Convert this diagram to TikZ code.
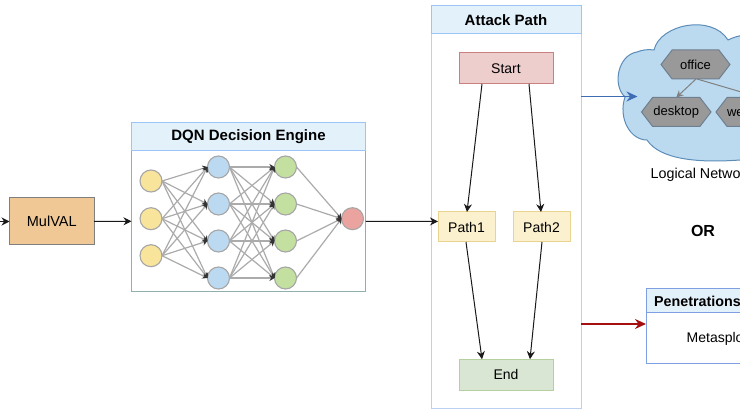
\documentclass[tikz,border=0pt]{standalone}
\usepackage{fontspec}
\setmainfont{Liberation Sans}
\usetikzlibrary{shapes.symbols,arrows.meta}
\definecolor{titlefill}{HTML}{E3F1FB}
\definecolor{titleline}{HTML}{9CC5F7}
\definecolor{bodyline}{HTML}{8FB0AE}
\definecolor{pathline}{HTML}{BDD0F2}
\definecolor{penline}{HTML}{7F9FE3}
\definecolor{netline}{HTML}{ABABAB}
\definecolor{hexfill}{HTML}{999999}
\definecolor{hexline}{HTML}{6F7F8F}
\definecolor{cloudfill}{HTML}{BBDAF0}
\definecolor{cloudline}{HTML}{5C8DB8}
\definecolor{pathfill}{HTML}{FBF1CE}
\definecolor{pathedge}{HTML}{E8D48F}
\definecolor{inC}{HTML}{F8E49B}
\definecolor{hidA}{HTML}{BBDAF2}
\definecolor{hidB}{HTML}{C3E0A0}
\definecolor{outC}{HTML}{EBA3A0}
\definecolor{startfill}{HTML}{EECDCD}
\definecolor{startedge}{HTML}{C88080}
\definecolor{endfill}{HTML}{D9E6D4}
\definecolor{endedge}{HTML}{B5CF9F}
\definecolor{mulfill}{HTML}{F0C896}
\definecolor{muledge}{HTML}{7F7F7F}
\definecolor{blueflow}{HTML}{3E6DB5}
\definecolor{redflow}{HTML}{A50F0F}
\tikzset{
  boxn/.style={draw,rectangle,inner sep=0pt,outer sep=0pt,line width=1pt},
  titlebox/.style={boxn,fill=titlefill,draw=titleline,font=\fontsize{15}{15}\selectfont\bfseries},
  statebox/.style={boxn,minimum width=94pt,minimum height=31pt,font=\fontsize{14}{14}\selectfont},
  pathbox/.style={boxn,minimum width=57pt,minimum height=30pt,fill=pathfill,draw=pathedge,font=\fontsize{14}{14}\selectfont},
  neuron/.style={circle,draw=black!35,fill=#1,line width=1.1pt,minimum size=22pt,inner sep=0pt,outer sep=0pt},
  hexa/.style={signal,signal to=west and east,signal pointer angle=105,draw=hexline,fill=hexfill,line width=1pt,inner sep=0pt,outer sep=0pt,minimum height=29pt,font=\fontsize{13}{13}\selectfont},
  flow/.style={-{Stealth[length=8pt,width=8pt]},line width=1pt,black!90},
  netlink/.style={-{Stealth[length=5pt,width=6pt,color=black!80]},draw=netline,line width=1.2pt},
  hexlink/.style={-{Stealth[length=7pt,width=7pt]},draw=gray,color=gray,line width=1pt},
  bigflow/.style={-{Stealth[length=11pt,width=10pt]},color=#1,line width=1.7pt},
}
\begin{document}
\begin{tikzpicture}[x=1pt,y=-1pt]
\useasboundingbox (0,0) rectangle (740,414);
\clip (0,0) rectangle (740,414);

% left part
\coordinate (src) at (-2,221.5);
\node[boxn,draw=muledge,fill=mulfill,minimum width=84.5pt,minimum height=47pt,font=\fontsize{14.5}{14.5}\selectfont] (mulval) at (51.75,221.5) {MulVAL};
\draw[flow] (src) -- (mulval.west);

% DQN panel
\node[boxn,draw=bodyline,fill=white,minimum width=234pt,minimum height=141.5pt] (dqnbody) at (248.5,221.25) {};
\node[titlebox,minimum width=234pt,minimum height=28pt] (dqntitle) at (248.5,136.5) {DQN Decision Engine};
\draw[flow] (mulval.east) -- (dqnbody.west);

% neurons
\foreach \n/\y in {1/181,2/218.7,3/255.7}
  \node[neuron=inC] (i\n) at (151,\y) {};
\foreach \n/\y in {1/167,2/204,3/241,4/278}{
  \node[neuron=hidA] (a\n) at (218.5,\y) {};
  \node[neuron=hidB] (b\n) at (285.5,\y) {};
}
\node[neuron=outC] (o1) at (352.5,218.7) {};
\foreach \s in {1,2,3}\foreach \t in {1,2,3,4}
  \draw[netlink] (i\s.east) -- (a\t.west);
\foreach \s in {1,2,3,4}\foreach \t in {1,2,3,4}
  \draw[netlink] (a\s.east) -- (b\t.west);
\foreach \s in {1,2,3,4}
  \draw[netlink] (b\s.east) -- (o1.west);

% Attack Path panel
\node[boxn,draw=pathline,fill=white,minimum width=150pt,minimum height=375pt] (attack) at (506,221.5) {};
\node[titlebox,minimum width=150pt,minimum height=28pt] (attacktitle) at (506,20) {Attack Path};

\node[statebox,fill=startfill,draw=startedge] (start) at (506,68.5) {Start};
\node[pathbox] (p1) at (466.5,227) {Path1};
\node[pathbox] (p2) at (541.5,227) {Path2};
\node[statebox,fill=endfill,draw=endedge] (end) at (506,374.75) {End};
\draw[flow] (dqnbody.east) -- ([yshift=5.5pt]p1.west);
\draw[flow] ([xshift=-24pt]start.south) -- ([xshift=.5pt]p1.north);
\draw[flow] ([xshift=23pt]start.south) -- ([xshift=-.5pt]p2.north);
\draw[flow] ([xshift=-.5pt]p1.south) -- ([xshift=-24pt]end.north);
\draw[flow] ([xshift=.5pt]p2.south) -- ([xshift=24pt]end.north);

% Cloud
\fill[cloudfill,draw=cloudline,line width=1pt]
  (654,50) .. controls (660,24) and (712,14) .. (728,40)
  .. controls (738,35) and (750,33) .. (770,35)
  -- (770,160) -- (740,160)
  .. controls (700,163) and (660,160) .. (647,140)
  .. controls (630,140) and (618,118) .. (625,97)
  .. controls (612,85) and (618,55) .. (637,52)
  .. controls (642,50) and (648,49) .. (654,50) -- cycle;
\coordinate (cloudin) at (637.5,96.5);
\node[hexa,minimum width=69pt] (office) at (695.5,64.5) {office};
\node[hexa,minimum width=69.5pt] (desktop) at (676.25,112) {desktop};
\node[hexa,minimum width=44pt] (web) at (739,112) {web};
\draw[hexlink] ([xshift=.5pt]office.south) -- (desktop.north);
\draw[hexlink] ([xshift=1.5pt]office.south) -- ([xshift=21pt]web.north);
\node[anchor=west,inner sep=0pt,font=\fontsize{14.3}{14.3}\selectfont] (lognet) at (650.5,175) {Logical Network};
\draw[bigflow=blueflow] ([yshift=125pt]attack.east) -- (cloudin);

\node[font=\fontsize{16}{16}\selectfont\bfseries] (ortext) at (703,231) {OR};

% Penetration panel
\node[boxn,draw=penline,fill=white,minimum width=120pt,minimum height=75pt] (pen) at (706,326.5) {};
\node[boxn,draw=penline,fill=titlefill,minimum width=120pt,minimum height=24pt] (pentitle) at (706,301) {};
\node[anchor=west,inner sep=0pt,font=\fontsize{14.3}{14.3}\selectfont\bfseries] (pentext) at (654,301.5) {Penetrations};
\node[anchor=west,inner sep=0pt,font=\fontsize{14}{14}\selectfont] (metatext) at (686.5,339) {Metasploit};
\draw[bigflow=redflow] ([yshift=-102.5pt]attack.east) -- ([yshift=2.5pt]pen.west);
\end{tikzpicture}
\end{document}
